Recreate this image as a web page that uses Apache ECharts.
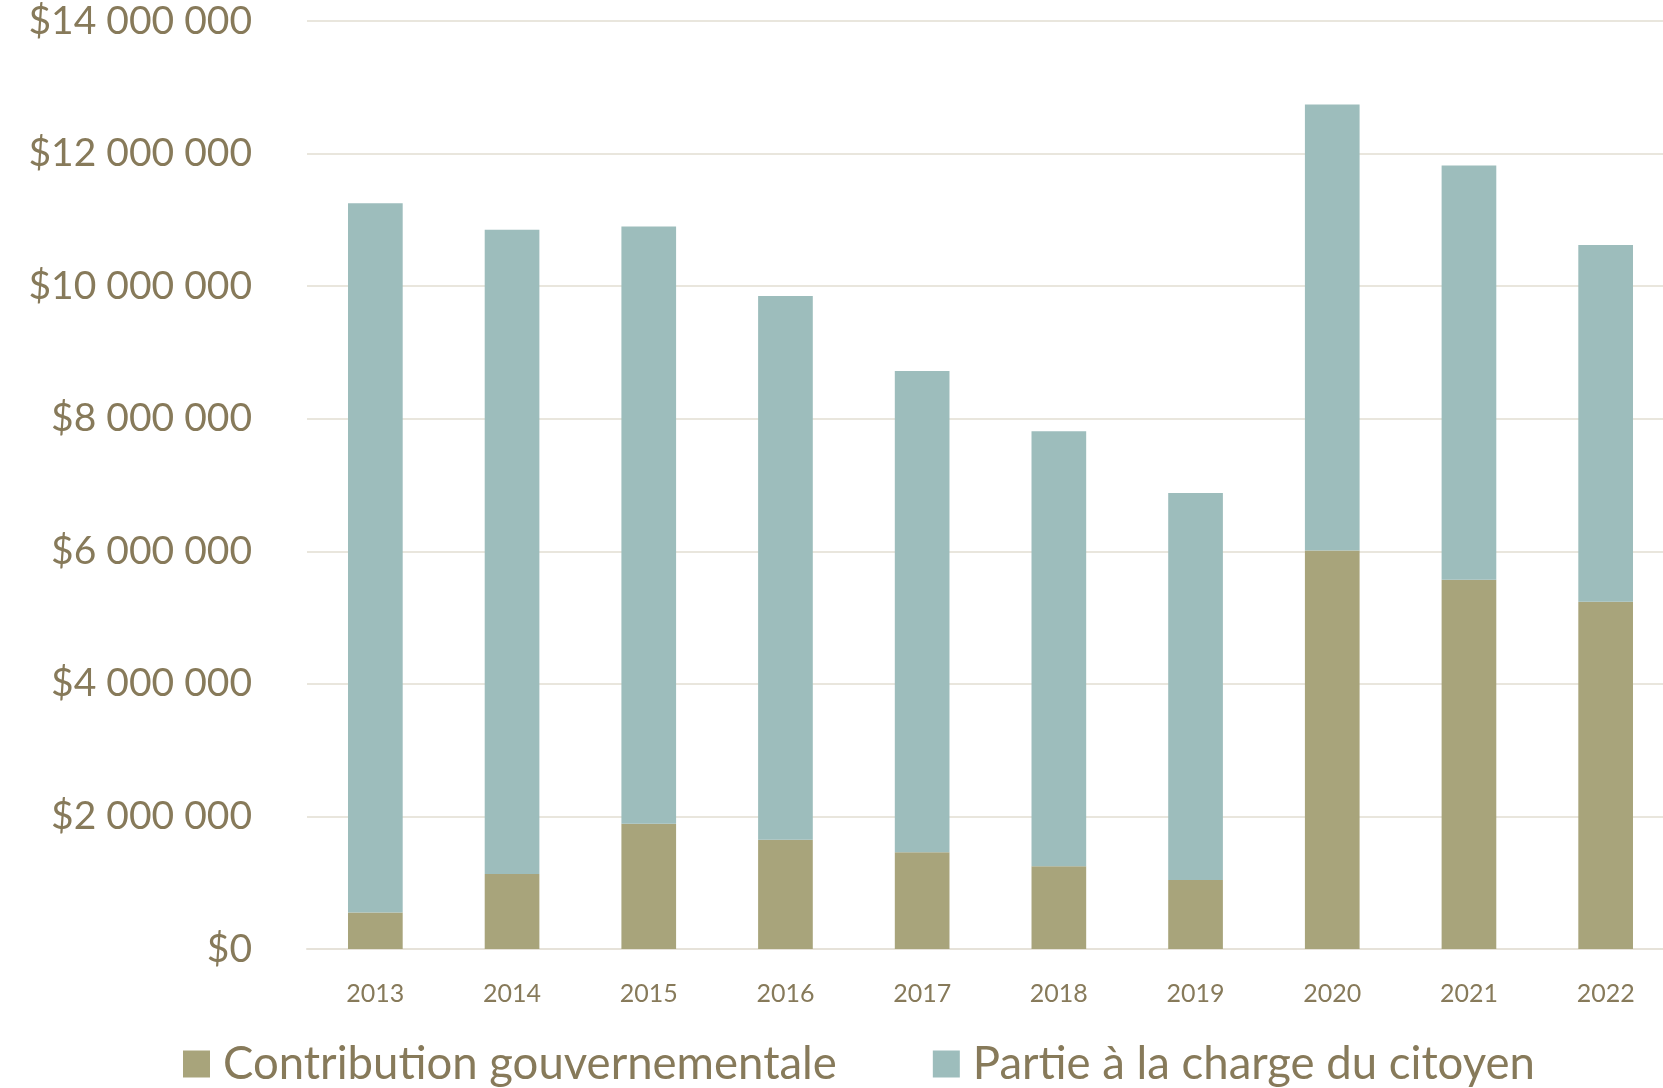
<!DOCTYPE html>
<html>
<head>
<meta charset="utf-8">
<script src="https://cdn.jsdelivr.net/npm/echarts@6/dist/echarts.min.js"></script>
<style>
html,body{margin:0;padding:0;background:#fff;}
#chart{width:1663px;height:1088px;}
</style>
</head>
<body>
<div id="chart"></div>
<script>
const years = ['2013','2014','2015','2016','2017','2018','2019','2020','2021','2022'];
const contributionGouv = [550000, 1130000, 1890000, 1650000, 1460000, 1250000, 1040000, 6010000, 5570000, 5240000];
const partieCitoyen = [10700000, 9720000, 9010000, 8200000, 7260000, 6560000, 5840000, 6730000, 6250000, 5380000];
const seriesNames = ['Contribution gouvernementale', 'Partie à la charge du citoyen'];

const textColor = '#877a5a';
const chart = echarts.init(document.getElementById('chart'));
function fmt(v){
  return '$' + String(Math.round(v)).replace(/\B(?=(\d{3})+(?!\d))/g, ' ');
}
chart.setOption({
  animation: false,
  grid: {left: 307, width: 1367, top: 21, height: 928, containLabel: false, outerBoundsMode: 'none'},
  legend: {
    left: 178, top: 1036,
    itemWidth: 27, itemHeight: 27, itemGap: 96,
    icon: 'rect',
    textStyle: {fontFamily: 'Lato', fontSize: 45.5, color: textColor, padding: [0,0,0,8]},
    data: seriesNames
  },
  xAxis: {
    type: 'category',
    data: years,
    axisTick: {show: false},
    axisLine: {show: true, lineStyle: {color: '#e6e2d9', width: 2}},
    axisLabel: {fontFamily: 'Lato', fontSize: 25, color: textColor, margin: 32}
  },
  yAxis: {
    type: 'value',
    min: 0, max: 14000000, interval: 2000000,
    axisLine: {show: false},
    axisTick: {show: false},
    splitLine: {lineStyle: {color: '#e9e6dd', width: 2}},
    axisLabel: {fontFamily: 'Lato', fontSize: 39, color: textColor, margin: 55, formatter: fmt}
  },
  series: [
    {name: seriesNames[0], type: 'bar', stack: 't', data: contributionGouv, barWidth: '40%',
     itemStyle: {color: '#a8a47b'}},
    {name: seriesNames[1], type: 'bar', stack: 't', data: partieCitoyen, barWidth: '40%',
     itemStyle: {color: '#9dbdbc'}}
  ]
});
</script>
</body>
</html>
